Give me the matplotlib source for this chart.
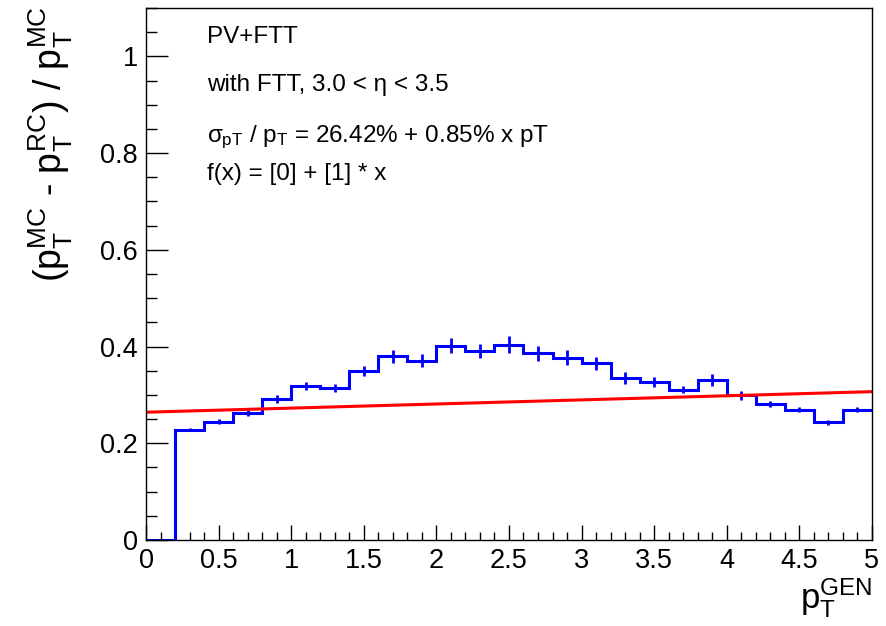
import numpy as np
import matplotlib
matplotlib.use("Agg")
import matplotlib.pyplot as plt
from matplotlib.ticker import MultipleLocator

plt.rcParams['font.family'] = ['Liberation Sans', 'DejaVu Sans']
plt.rcParams['mathtext.fontset'] = 'custom'
plt.rcParams['mathtext.rm'] = 'Liberation Sans'
plt.rcParams['mathtext.it'] = 'Liberation Sans'
plt.rcParams['mathtext.bf'] = 'Liberation Sans:bold'

# bin edges of pT (GeV), 0.2 wide
bin_edges = np.arange(0, 5.0001, 0.2)
# relative resolution per bin
resolution = [0.0, 0.228, 0.245, 0.262, 0.292, 0.319, 0.315, 0.350, 0.380, 0.371,
              0.402, 0.391, 0.404, 0.386, 0.377, 0.365, 0.335, 0.327, 0.311, 0.331,
              0.299, 0.282, 0.269, 0.243, 0.269]
res_err = [0.0, 0.003, 0.005, 0.006, 0.008, 0.008, 0.008, 0.010, 0.013, 0.013,
           0.015, 0.015, 0.018, 0.016, 0.015, 0.014, 0.012, 0.010, 0.008, 0.012,
           0.010, 0.006, 0.005, 0.005, 0.005]

# linear fit parameters
p0 = 0.2642
p1 = 0.0085

fig = plt.figure(figsize=(8.87, 6.26), dpi=100)
ax = fig.add_axes([0.1646, 0.1374, 0.8184, 0.8498])

ax.stairs(resolution, bin_edges, color='#0000ff', lw=2.2, baseline=None)
centers = 0.5 * (bin_edges[:-1] + bin_edges[1:])
ax.errorbar(centers[1:], resolution[1:], yerr=res_err[1:], fmt='none',
            ecolor='#0000ff', elinewidth=2.0)
# vertical edge at first filled bin
ax.plot([0.2, 0.2], [0, resolution[1]], color='#0000ff', lw=2.2)

xfit = np.linspace(0, 5, 50)
ax.plot(xfit, p0 + p1 * xfit, color='#ff0000', lw=2.2)

ax.set_xlim(0, 5)
ax.set_ylim(0, 1.1)
ax.xaxis.set_major_locator(MultipleLocator(0.5))
ax.xaxis.set_minor_locator(MultipleLocator(0.1))
ax.yaxis.set_major_locator(MultipleLocator(0.2))
ax.yaxis.set_minor_locator(MultipleLocator(0.05))
ax.xaxis.set_major_formatter(plt.FuncFormatter(lambda v, p: f'{v:g}'))
ax.yaxis.set_major_formatter(plt.FuncFormatter(lambda v, p: f'{v:g}'))
ax.tick_params(axis='both', which='both', direction='in', labelsize=19.5,
               width=1.0, top=False, right=False)
ax.tick_params(axis='x', which='major', length=11, pad=6)
ax.tick_params(axis='x', which='minor', length=5.5)
ax.tick_params(axis='y', which='major', length=16, pad=6)
ax.tick_params(axis='y', which='minor', length=8)
for s in ax.spines.values():
    s.set_linewidth(1.0)

fig.text(0.058, 0.99, r'$(\mathrm{p}_{\mathrm{T}}^{\mathrm{MC}}$ - $\mathrm{p}_{\mathrm{T}}^{\mathrm{RC}})$ / $\mathrm{p}_{\mathrm{T}}^{\mathrm{MC}}$',
         rotation=90, ha='center', va='top', fontsize=27)
fig.text(0.983, 0.01, r'$\mathrm{p}_{\mathrm{T}}^{\mathrm{GEN}}$',
         ha='right', va='bottom', fontsize=25)

tx = 0.084
fs = 17.5
ax.text(tx, 0.934, 'PV+FTT', transform=ax.transAxes, fontsize=fs, va='baseline')
ax.text(tx, 0.844, 'with FTT, 3.0 < η < 3.5', transform=ax.transAxes, fontsize=fs, va='baseline')
ax.text(tx, 0.748, r'$\sigma_{\mathrm{pT}}$ / p$_{\mathrm{T}}$ = 26.42% + 0.85% x pT',
        transform=ax.transAxes, fontsize=fs, va='baseline')
ax.text(tx, 0.677, 'f(x) = [0] + [1] * x', transform=ax.transAxes, fontsize=fs, va='baseline')

fig.savefig('out.png', dpi=100)
